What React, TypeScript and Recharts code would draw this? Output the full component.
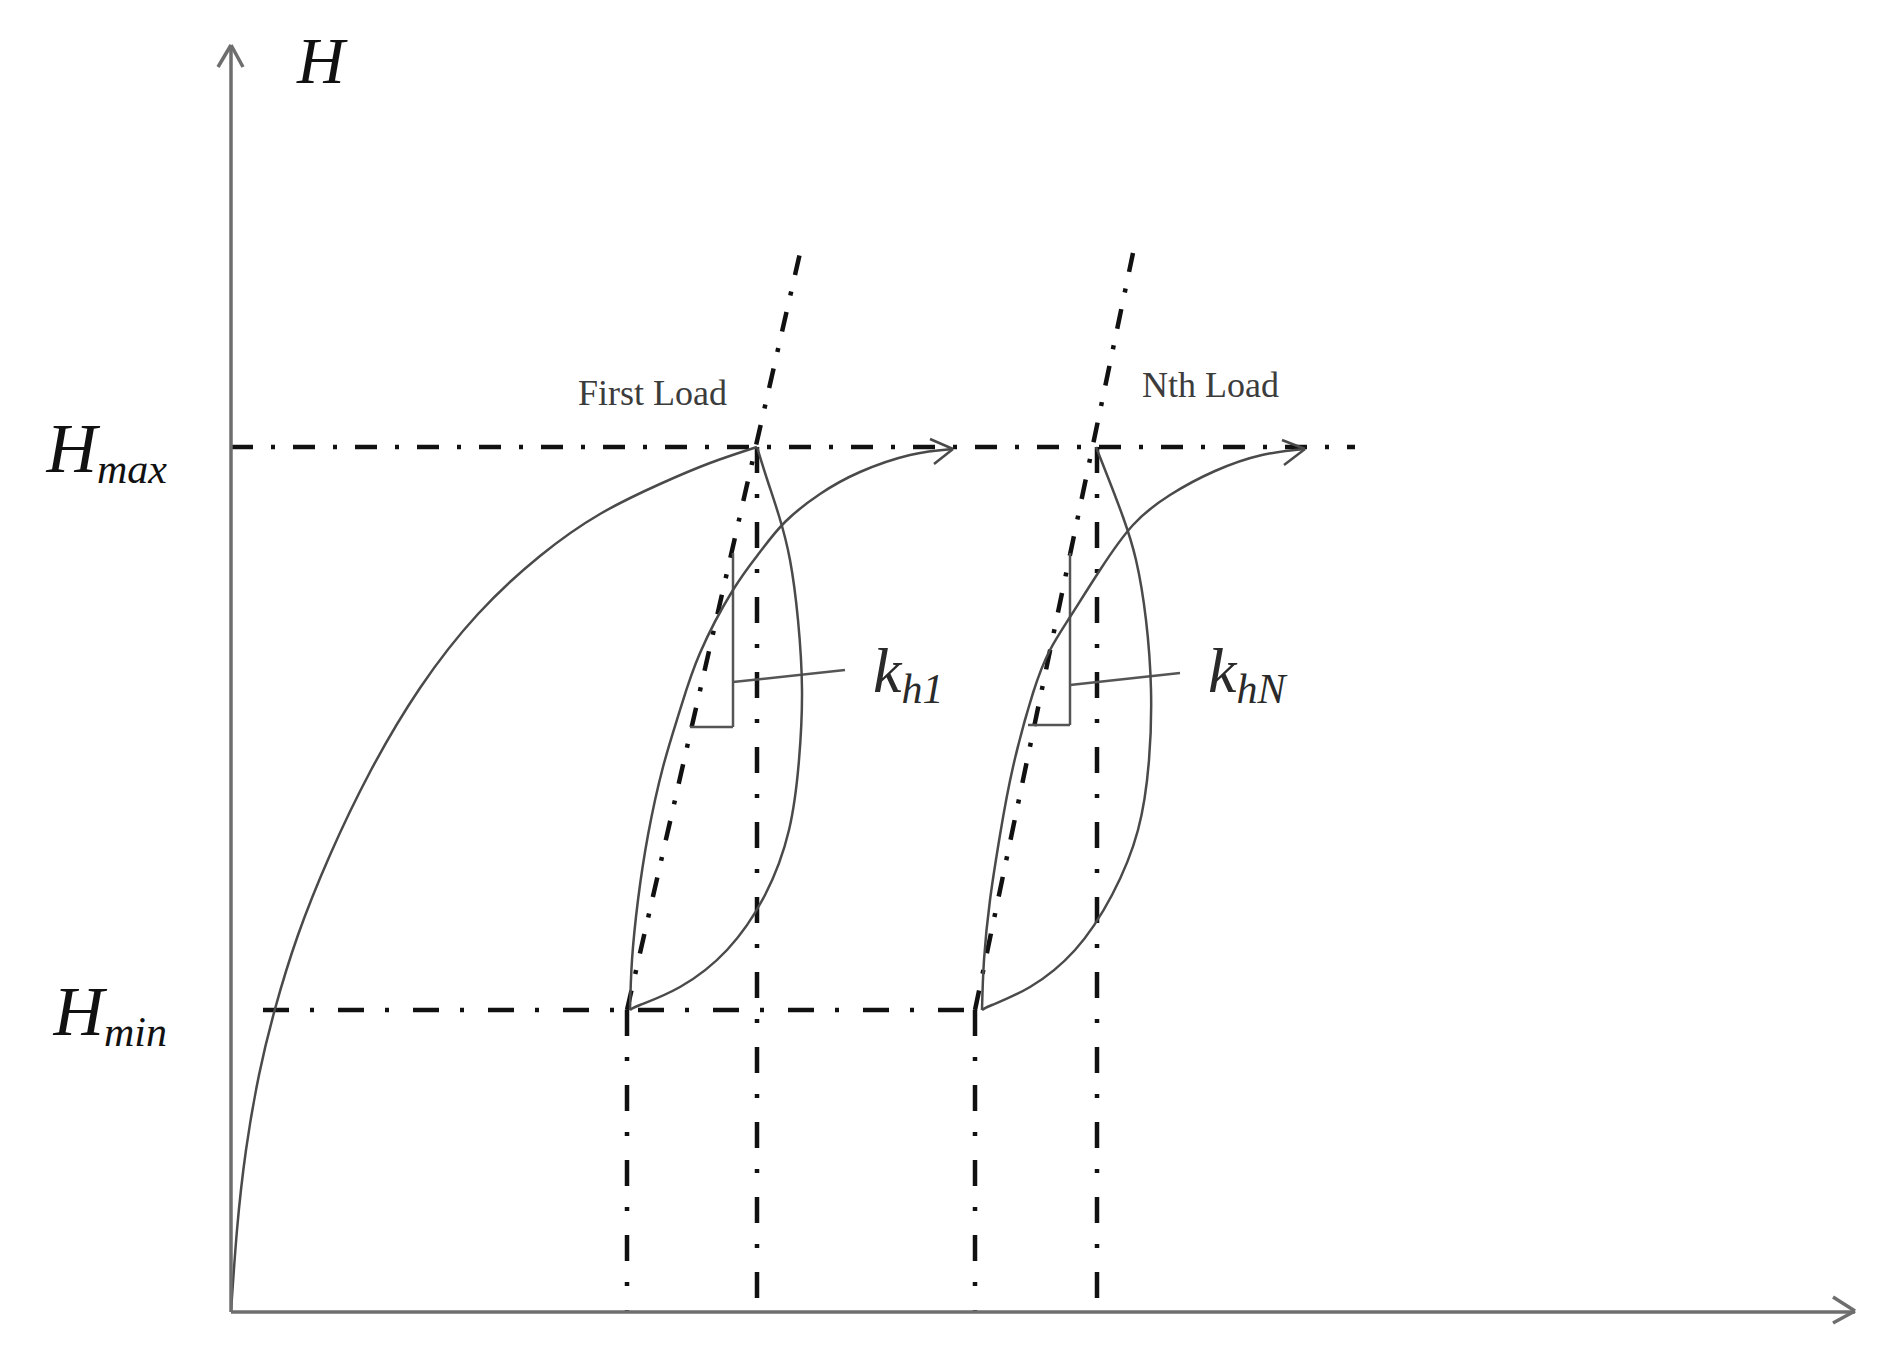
import React from 'react';
import { ComposedChart, Line, XAxis, YAxis, ReferenceLine, ReferenceDot } from 'recharts';

// Schematic units: x = deformation, y = H (arbitrary units)
const X_DOMAIN: [number, number] = [0, 162.4];
const Y_DOMAIN: [number, number] = [0, 126.7];
const H_MIN = 30.2;
const H_MAX = 86.5;

const firstLoading = [
  { x: 0, y: 0 }, { x: 0.6, y: 8.2 }, { x: 1.5, y: 16.2 }, { x: 2.8, y: 23.7 },
  { x: 4.4, y: 30.3 }, { x: 6.7, y: 37.7 }, { x: 9.9, y: 45.7 }, { x: 13.9, y: 54.0 },
  { x: 18.9, y: 62.4 }, { x: 24.7, y: 69.8 }, { x: 30.9, y: 75.6 }, { x: 36.9, y: 79.8 },
  { x: 42.9, y: 82.8 }, { x: 47.9, y: 84.9 }, { x: 52.6, y: 86.5 },
];

const unloading1 = [
  { x: 52.6, y: 86.5 }, { x: 53.6, y: 83.3 }, { x: 54.8, y: 79.6 }, { x: 55.9, y: 75.2 },
  { x: 56.7, y: 69.2 }, { x: 57.1, y: 62.2 }, { x: 56.8, y: 55.2 }, { x: 55.8, y: 48.2 },
  { x: 53.4, y: 41.7 }, { x: 49.6, y: 36.2 }, { x: 44.9, y: 32.5 }, { x: 40.9, y: 30.7 },
  { x: 39.9, y: 30.2 },
];

const reloading1 = [
  { x: 39.9, y: 30.2 }, { x: 40.1, y: 35.2 }, { x: 40.7, y: 41.2 }, { x: 41.7, y: 47.7 },
  { x: 43.2, y: 54.5 }, { x: 44.9, y: 60.2 }, { x: 46.9, y: 65.9 }, { x: 50.2, y: 72.2 },
  { x: 52.9, y: 76.0 }, { x: 55.4, y: 79.0 }, { x: 58.9, y: 81.8 }, { x: 62.9, y: 84.0 },
  { x: 67.9, y: 85.7 }, { x: 72.2, y: 86.3 },
];

const unloadingN = [
  { x: 86.5, y: 86.5 }, { x: 87.8, y: 83.2 }, { x: 89.2, y: 79.5 }, { x: 90.5, y: 75.2 },
  { x: 91.5, y: 69.2 }, { x: 92.0, y: 62.2 }, { x: 91.8, y: 55.2 }, { x: 90.7, y: 48.2 },
  { x: 88.1, y: 41.7 }, { x: 84.4, y: 36.2 }, { x: 79.9, y: 32.5 }, { x: 76.1, y: 30.7 },
  { x: 75.1, y: 30.2 },
];

const reloadingN = [
  { x: 75.1, y: 30.2 }, { x: 75.3, y: 35.2 }, { x: 75.9, y: 41.2 }, { x: 76.9, y: 47.7 },
  { x: 78.2, y: 54.5 }, { x: 80.2, y: 61.9 }, { x: 81.9, y: 66.2 }, { x: 83.9, y: 69.5 },
  { x: 86.9, y: 74.2 }, { x: 90.2, y: 78.7 }, { x: 93.9, y: 81.7 }, { x: 98.4, y: 84.1 },
  { x: 103.1, y: 85.7 }, { x: 107.4, y: 86.3 },
];

// reference construction lines
const peakVerticalX = [52.6, 86.6];
const valleyVerticalX = [39.6, 74.4];
const slopeTopX = [56.9, 90.2];
const SLOPE_TOP_Y = 105.9;
const H_MAX_LINE = { from: 0, to: 112.4 };
const H_MIN_LINE = { from: 3.2, to: 74.4 };

const slopeTriangles = [
  { x: 50.2, top: 75.9, bottom: 58.5, left: 45.9, leadY: 63.0, leadEndX: 61.4, leadEndY: 64.2 },
  { x: 83.9, top: 75.9, bottom: 58.7, left: 79.7, leadY: 62.7, leadEndX: 94.9, leadEndY: 63.9 },
];

const curveArrows = [
  { tip: { x: 72.2, y: 86.3 }, w1: { x: 69.9, y: 87.3 }, w2: { x: 70.3, y: 84.8 } },
  { tip: { x: 107.4, y: 86.3 }, w1: { x: 105.1, y: 87.2 }, w2: { x: 105.3, y: 84.7 } },
];

const axisArrows = [
  { tip: { x: 0, y: 126.7 }, w1: { x: -1.3, y: 124.5 }, w2: { x: 1.2, y: 124.5 } },
  { tip: { x: 162.4, y: 0.1 }, w1: { x: 160.2, y: 1.5 }, w2: { x: 160.2, y: -1.1 } },
];

const yTickValues = [H_MIN, H_MAX];
const yTickSubs: Record<string, string> = { [String(H_MIN)]: 'min', [String(H_MAX)]: 'max' };

const loadLabels = [
  { text: 'First Load', x: 34.7, y: 90.7 },
  { text: 'Nth Load', x: 91.1, y: 91.5 },
];
const slopeLabels = [
  { main: 'k', sub: 'h1', x: 64.2, y: 62.0 },
  { main: 'k', sub: 'hN', x: 97.7, y: 62.0 },
];
const axisTitle = { text: 'H', x: 6.6, y: 122.9 };

const SERIF = '"Liberation Serif", "Times New Roman", serif';
const CURVE = '#4a4a4a';
const DASH = '#111';
const HV_DASH = '26 21 4 24';
const H_MAX_DASH = '22 18 4 18';
const SLOPE_DASH = '20 17 4 17';

const YTick = (props: any) => {
  const { x, y, payload } = props;
  const sub = yTickSubs[String(payload.value)];
  return (
    <text x={x} y={y + 25} textAnchor="end" fontFamily={SERIF} fontStyle="italic" fill="#111">
      <tspan fontSize={70}>H</tspan>
      <tspan fontSize={42} dy={11}>{sub}</tspan>
    </text>
  );
};

const seg = (a: { x: number; y: number }, b: { x: number; y: number }) => [a, b] as any;

export default function App() {
  return (
    <div style={{ position: 'absolute', left: 0, top: 0, background: '#fff' }}>
      <ComposedChart width={1894} height={1358} margin={{ top: 45, right: 39, left: 0, bottom: 0 }}>
        <XAxis
          dataKey="x"
          type="number"
          domain={X_DOMAIN}
          allowDataOverflow
          tick={false}
          tickLine={false}
          height={46}
          axisLine={{ stroke: '#6e6e6e', strokeWidth: 3.5 }}
        />
        <YAxis
          type="number"
          domain={Y_DOMAIN}
          allowDataOverflow
          ticks={yTickValues}
          interval={0}
          width={231}
          tickLine={false}
          tickSize={0}
          tickMargin={64}
          tick={<YTick />}
          axisLine={{ stroke: '#6e6e6e', strokeWidth: 3.5 }}
        />

        {/* Hmax / Hmin construction lines */}
        <ReferenceLine
          segment={seg({ x: H_MAX_LINE.from, y: H_MAX }, { x: H_MAX_LINE.to, y: H_MAX })}
          stroke={DASH} strokeWidth={4.5} strokeDasharray={H_MAX_DASH} ifOverflow="visible"
        />
        <ReferenceLine
          segment={seg({ x: H_MIN_LINE.from, y: H_MIN }, { x: H_MIN_LINE.to, y: H_MIN })}
          stroke={DASH} strokeWidth={4.5} strokeDasharray={HV_DASH} ifOverflow="visible"
        />
        {peakVerticalX.map((vx, i) => (
          <ReferenceLine key={'pv' + i}
            segment={seg({ x: vx, y: H_MAX }, { x: vx, y: 0 })}
            stroke={DASH} strokeWidth={4.5} strokeDasharray={HV_DASH} ifOverflow="visible" />
        ))}
        {valleyVerticalX.map((vx, i) => (
          <ReferenceLine key={'vv' + i}
            segment={seg({ x: vx, y: H_MIN }, { x: vx, y: 0 })}
            stroke={DASH} strokeWidth={4.5} strokeDasharray={HV_DASH} ifOverflow="visible" />
        ))}
        {valleyVerticalX.map((vx, i) => (
          <ReferenceLine key={'sl' + i}
            segment={seg({ x: vx, y: H_MIN }, { x: slopeTopX[i], y: SLOPE_TOP_Y })}
            stroke={DASH} strokeWidth={4.5} strokeDasharray={SLOPE_DASH} ifOverflow="visible" />
        ))}

        {/* slope triangles and leaders */}
        {slopeTriangles.map((t, i) => (
          <ReferenceLine key={'tv' + i} segment={seg({ x: t.x, y: t.top }, { x: t.x, y: t.bottom })}
            stroke="#555" strokeWidth={2.5} ifOverflow="visible" />
        ))}
        {slopeTriangles.map((t, i) => (
          <ReferenceLine key={'th' + i} segment={seg({ x: t.left, y: t.bottom }, { x: t.x, y: t.bottom })}
            stroke="#555" strokeWidth={2.5} ifOverflow="visible" />
        ))}
        {slopeTriangles.map((t, i) => (
          <ReferenceLine key={'tl' + i} segment={seg({ x: t.x, y: t.leadY }, { x: t.leadEndX, y: t.leadEndY })}
            stroke="#555" strokeWidth={2.5} ifOverflow="visible" />
        ))}

        {/* curves */}
        <Line data={firstLoading} dataKey="y" type="natural" stroke={CURVE} strokeWidth={2.5} dot={false} isAnimationActive={false} />
        <Line data={unloading1} dataKey="y" type="natural" stroke={CURVE} strokeWidth={2.5} dot={false} isAnimationActive={false} />
        <Line data={reloading1} dataKey="y" type="natural" stroke={CURVE} strokeWidth={2.5} dot={false} isAnimationActive={false} />
        <Line data={unloadingN} dataKey="y" type="natural" stroke={CURVE} strokeWidth={2.5} dot={false} isAnimationActive={false} />
        <Line data={reloadingN} dataKey="y" type="natural" stroke={CURVE} strokeWidth={2.5} dot={false} isAnimationActive={false} />

        {/* arrowheads */}
        {curveArrows.flatMap((a, i) => [
          <ReferenceLine key={'ca1' + i} segment={seg(a.w1, a.tip)} stroke={CURVE} strokeWidth={2.5} ifOverflow="visible" />,
          <ReferenceLine key={'ca2' + i} segment={seg(a.w2, a.tip)} stroke={CURVE} strokeWidth={2.5} ifOverflow="visible" />,
        ])}
        {axisArrows.flatMap((a, i) => [
          <ReferenceLine key={'aa1' + i} segment={seg(a.w1, a.tip)} stroke="#6e6e6e" strokeWidth={3.5} ifOverflow="visible" />,
          <ReferenceLine key={'aa2' + i} segment={seg(a.w2, a.tip)} stroke="#6e6e6e" strokeWidth={3.5} ifOverflow="visible" />,
        ])}

        {/* text labels */}
        <ReferenceDot x={axisTitle.x} y={axisTitle.y} r={0} ifOverflow="visible"
          shape={(p: any) => (
            <text x={p.cx} y={p.cy} fontFamily={SERIF} fontStyle="italic" fontSize={66} fill="#111">{axisTitle.text}</text>
          )} />
        {loadLabels.map((l, i) => (
          <ReferenceDot key={'ll' + i} x={l.x} y={l.y} r={0} ifOverflow="visible"
            shape={(p: any) => (
              <text x={p.cx} y={p.cy} fontFamily={SERIF} fontSize={36} fill="#3c3c3c">{l.text}</text>
            )} />
        ))}
        {slopeLabels.map((l, i) => (
          <ReferenceDot key={'kl' + i} x={l.x} y={l.y} r={0} ifOverflow="visible"
            shape={(p: any) => (
              <text x={p.cx} y={p.cy} fontFamily={SERIF} fontStyle="italic" fill="#2a2a2a">
                <tspan fontSize={64}>{l.main}</tspan>
                <tspan fontSize={42} dy={11}>{l.sub}</tspan>
              </text>
            )} />
        ))}
      </ComposedChart>
    </div>
  );
}
